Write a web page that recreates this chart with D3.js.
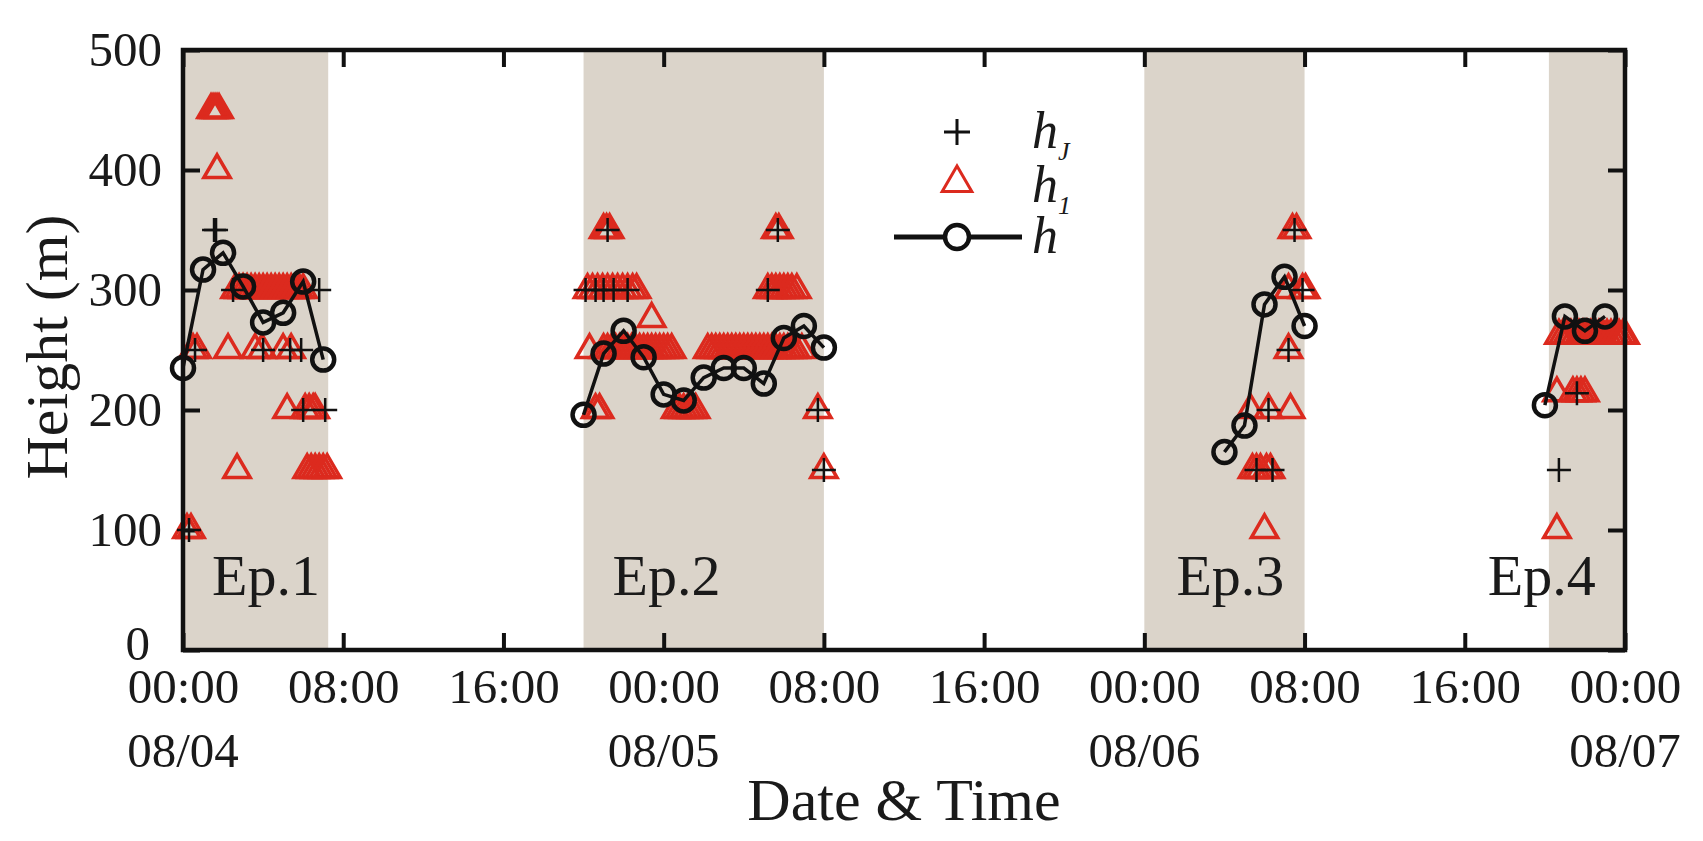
<!DOCTYPE html>
<meta charset="utf-8">
<style>

body {
  margin: 0;
  background: #fff;
}

svg {
  font-family: "Liberation Serif", "Times New Roman", serif;
  fill: #1a1a1a;
}

.band {
  fill: #dbd4ca;
}

.axis path {
  display: none;
}

.axis line {
  stroke: #111;
  stroke-width: 4;
}

.axis text {
  font-family: "Liberation Serif", "Times New Roman", serif;
  font-size: 49px;
  fill: #1a1a1a;
}

.frame {
  fill: none;
  stroke: #111;
  stroke-width: 4.5;
}

.tri {
  fill: none;
  stroke: #dc2a1e;
  stroke-width: 3.5;
}

.plus {
  fill: none;
  stroke: #111;
  stroke-width: 2.5;
}

.hline {
  fill: none;
  stroke: #111;
  stroke-width: 3.5;
}

.hdot {
  fill: none;
  stroke: #111;
  stroke-width: 4.5;
}

</style>
<body>
<script src="https://cdn.jsdelivr.net/npm/d3@7"></script>
<script>

// hours since 00:00 08/04
var hourTicks = [0, 8, 16, 24, 32, 40, 48, 56, 64, 72],
    hourLabels = ["00:00", "08:00", "16:00", "00:00", "08:00", "16:00", "00:00", "08:00", "16:00", "00:00"],
    dayTicks = [0, 24, 48, 72],
    dayLabels = ["08/04", "08/05", "08/06", "08/07"],
    heightTicks = [0, 100, 200, 300, 400, 500];

// shaded episodes
var bandStart = [0, 20, 48, 68.2],
    bandEnd = [7.25, 32, 56, 72],
    bandNames = ["Ep.1", "Ep.2", "Ep.3", "Ep.4"],
    bandLabelAt = [1.45, 21.45, 49.6, 65.15];

// h (hourly), one segment per episode
var hEp1 = [[0, 235], [1, 317], [2, 331], [3, 303], [4, 273], [5, 281], [6, 307], [7, 242]],
    hEp2 = [[20, 196], [21, 247], [22, 266], [23, 244], [24, 213], [25, 208], [26, 227],
            [27, 235], [28, 235], [29, 222], [30, 260], [31, 270], [32, 252]],
    hEp3 = [[52, 165], [53, 187], [54, 288], [55, 311], [56, 270]],
    hEp4 = [[68, 204], [69, 278], [70, 266], [71, 278]];

// h_1 (triangles)
var h1 = [
  // Ep.1
  [0.2, 100], [0.4, 100],
  [0.5, 250], [0.7, 250], [2.25, 250], [3.6, 250], [3.95, 250], [5.0, 250], [5.4, 250],
  [1.4, 450], [1.5, 450], [1.6, 450], [1.7, 450], [1.8, 450], [1.7, 400],
  [2.6, 300], [2.8, 300], [3.0, 300], [3.2, 300], [3.4, 300], [3.6, 300], [3.8, 300], [4.0, 300],
  [4.2, 300], [4.4, 300], [4.6, 300], [4.8, 300], [5.0, 300], [5.2, 300], [5.4, 300], [5.6, 300],
  [5.8, 300], [6.0, 300],
  [5.2, 200], [6.1, 200], [6.3, 200], [6.5, 200], [6.6, 200],
  [2.7, 150], [6.2, 150], [6.4, 150], [6.6, 150], [6.8, 150], [7.0, 150], [7.2, 150],
  // Ep.2
  [21.0, 350], [21.15, 350], [21.3, 350], [29.6, 350], [29.75, 350],
  [20.2, 300], [20.45, 300], [20.7, 300], [20.95, 300], [21.2, 300], [21.45, 300], [21.7, 300],
  [21.95, 300], [22.2, 300], [22.45, 300], [22.65, 300],
  [29.2, 300], [29.4, 300], [29.6, 300], [29.8, 300], [30.0, 300], [30.2, 300], [30.4, 300], [30.65, 300],
  [23.4, 276],
  [20.3, 250], [21.0, 250], [21.2, 250], [21.4, 250], [21.6, 250], [21.8, 250], [22.0, 250],
  [22.2, 250], [22.4, 250], [22.6, 250], [22.8, 250], [23.0, 250], [23.2, 250], [23.4, 250],
  [23.6, 250], [23.8, 250], [24.0, 250], [24.2, 250], [24.4, 250],
  [26.2, 250], [26.4, 250], [26.6, 250], [26.8, 250], [27.0, 250], [27.2, 250], [27.4, 250],
  [27.6, 250], [27.8, 250], [28.0, 250], [28.2, 250], [28.4, 250], [28.6, 250], [28.8, 250],
  [29.0, 250], [29.2, 250], [29.4, 250], [29.6, 250], [29.8, 250], [30.0, 250], [30.2, 250],
  [30.4, 250], [30.6, 250], [30.9, 250],
  [20.6, 200], [20.8, 200], [24.6, 200], [24.8, 200], [25.0, 200], [25.2, 200], [25.4, 200],
  [25.6, 200], [31.7, 200],
  [32.0, 150],
  // Ep.3
  [55.4, 350], [55.6, 350],
  [55.2, 300], [55.9, 300], [56.05, 300],
  [55.2, 250],
  [53.3, 200], [54.2, 200], [55.3, 200],
  [53.4, 150], [53.6, 150], [53.8, 150], [54.1, 150], [54.3, 150],
  [54.0, 100],
  // Ep.4
  [68.7, 262], [68.9, 262], [69.1, 262], [69.3, 262], [69.5, 262], [69.7, 262], [69.9, 262],
  [70.1, 262], [70.3, 262], [70.5, 262], [70.7, 262], [70.9, 262], [71.1, 262], [71.3, 262],
  [71.5, 262], [71.7, 262], [71.9, 262], [72.0, 262],
  [68.6, 214], [69.4, 214], [69.6, 214], [69.8, 214], [70.0, 214],
  [68.6, 100]
];

// h_J (pluses)
var hJ = [
  [0.3, 100], [0.6, 250], [1.55, 350], [1.65, 350], [2.5, 300], [4.0, 250], [5.35, 250],
  [5.9, 250], [6.8, 300], [6.0, 200], [7.1, 200],
  [20.1, 300], [20.6, 300], [21.0, 300], [21.5, 300], [22.2, 300], [21.2, 350], [29.7, 350],
  [29.2, 300], [31.7, 200], [32.0, 150],
  [55.5, 350], [55.9, 300], [55.2, 250], [54.2, 200], [53.6, 150], [54.4, 150],
  [68.7, 150], [69.6, 214]
];

var width = 1703,
    height = 841,
    margin = {top: 50, right: 78, bottom: 191, left: 183},
    w = width - margin.left - margin.right,
    h = height - margin.top - margin.bottom;

var x = d3.scaleLinear().domain([0, 72]).range([0, w]);
var y = d3.scaleLinear().domain([0, 500]).range([h, 0]);

var svg = d3.select("body").append("svg")
    .attr("width", width)
    .attr("height", height);

svg.append("rect")
    .attr("width", width)
    .attr("height", height)
    .style("fill", "#fff");

var g = svg.append("g")
    .attr("transform", "translate(" + margin.left + "," + margin.top + ")");

g.append("clipPath")
    .attr("id", "clip")
  .append("rect")
    .attr("width", w)
    .attr("height", h);

g.append("g")
    .attr("clip-path", "url(#clip)")
  .selectAll(".band")
    .data(bandStart)
  .enter().append("rect")
    .attr("class", "band")
    .attr("x", function(d) { return x(d); })
    .attr("y", 0)
    .attr("width", function(d, i) { return x(bandEnd[i]) - x(d); })
    .attr("height", h);

g.selectAll(".eplabel")
    .data(bandNames)
  .enter().append("text")
    .attr("class", "eplabel")
    .attr("x", function(d, i) { return x(bandLabelAt[i]); })
    .attr("y", 545)
    .style("font-size", "58px")
    .text(function(d) { return d; });

// axes, ticks pointing inward on all four sides
var fmtHour = function(d) { return hourLabels[hourTicks.indexOf(d)]; };

g.append("g")
    .attr("class", "axis")
    .attr("transform", "translate(0," + h + ")")
    .call(d3.axisBottom(x).tickValues(hourTicks).tickSize(-17).tickPadding(18).tickFormat(fmtHour));

g.append("g")
    .attr("class", "axis")
    .call(d3.axisTop(x).tickValues(hourTicks).tickSize(-17).tickFormat(""));

g.append("g")
    .attr("class", "axis")
    .call(d3.axisLeft(y).tickValues(heightTicks).tickSize(-17).tickPadding(21))
  .selectAll("text")
    .attr("dx", function(d) { return d === 0 ? -12 : 0; })
    .attr("dy", function(d) { return d === 0 ? "0.2em" : "0.32em"; });

g.append("g")
    .attr("class", "axis")
    .attr("transform", "translate(" + w + ",0)")
    .call(d3.axisRight(y).tickValues(heightTicks).tickSize(-17).tickFormat(""));

g.selectAll(".day")
    .data(dayTicks)
  .enter().append("text")
    .attr("class", "day")
    .attr("x", function(d) { return x(d); })
    .attr("y", h + 117)
    .attr("text-anchor", "middle")
    .style("font-size", "49px")
    .text(function(d, i) { return dayLabels[i]; });

// markers
var tri = d3.symbol().type(d3.symbolTriangle).size(300);

g.selectAll(".tri")
    .data(h1)
  .enter().append("path")
    .attr("class", "tri")
    .attr("d", tri)
    .attr("transform", function(d) { return "translate(" + x(d[0]) + "," + y(d[1]) + ")"; });

g.selectAll(".plus")
    .data(hJ)
  .enter().append("path")
    .attr("class", "plus")
    .attr("d", "M-12,0H12M0,-12V12")
    .attr("transform", function(d) { return "translate(" + x(d[0]) + "," + y(d[1]) + ")"; });

var line = d3.line()
    .x(function(d) { return x(d[0]); })
    .y(function(d) { return y(d[1]); });

var segments = [hEp1, hEp2, hEp3, hEp4];

g.selectAll(".hline")
    .data(segments)
  .enter().append("path")
    .attr("class", "hline")
    .attr("d", line);

g.selectAll(".hdot")
    .data(d3.merge(segments))
  .enter().append("circle")
    .attr("class", "hdot")
    .attr("cx", function(d) { return x(d[0]); })
    .attr("cy", function(d) { return y(d[1]); })
    .attr("r", 11);

g.append("rect")
    .attr("class", "frame")
    .attr("width", w)
    .attr("height", h);

// legend
var legend = g.append("g")
    .attr("transform", "translate(" + (957 - margin.left) + ",0)");

legend.append("path")
    .attr("class", "plus")
    .attr("d", "M-13,0H13M0,-13V13")
    .style("stroke-width", 3)
    .attr("transform", "translate(0,82)");

legend.append("path")
    .attr("class", "tri")
    .attr("d", d3.symbol().type(d3.symbolTriangle).size(380))
    .style("stroke-width", 3)
    .attr("transform", "translate(0,133)");

legend.append("line")
    .attr("x1", -63)
    .attr("x2", 65)
    .attr("y1", 187)
    .attr("y2", 187)
    .style("stroke", "#111")
    .style("stroke-width", 5);

legend.append("circle")
    .attr("class", "hdot")
    .attr("cy", 187)
    .attr("r", 12)
    .style("fill", "#fff");

var legendText = [["h", "J", 98], ["h", "1", 152], ["h", "", 203]];

var lt = legend.selectAll(".lt")
    .data(legendText)
  .enter().append("text")
    .attr("class", "lt")
    .attr("x", 75)
    .attr("y", function(d) { return d[2]; })
    .style("font-size", "52px")
    .style("font-style", "italic");

lt.append("tspan").text(function(d) { return d[0]; });
lt.append("tspan")
    .attr("dy", 12)
    .style("font-size", "26px")
    .text(function(d) { return d[1]; });

// axis titles
svg.append("text")
    .attr("transform", "translate(67," + (margin.top + h / 2 - 3) + ") rotate(-90)")
    .attr("text-anchor", "middle")
    .style("font-size", "60px")
    .text("Height (m)");

svg.append("text")
    .attr("x", margin.left + w / 2)
    .attr("y", 820)
    .attr("text-anchor", "middle")
    .style("font-size", "60px")
    .text("Date & Time");

</script>
